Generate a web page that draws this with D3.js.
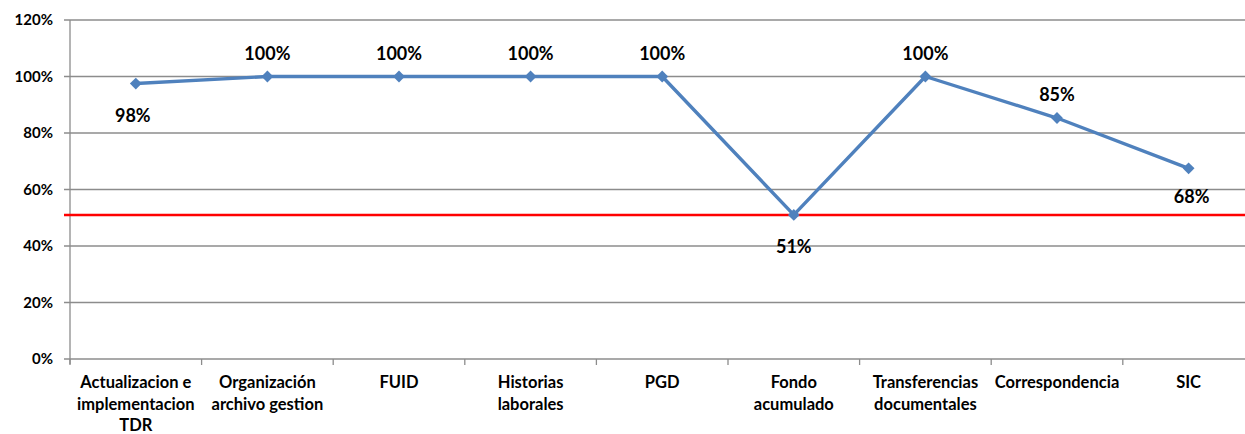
<!DOCTYPE html>
<html>
<head>
<meta charset="utf-8">
<script src="https://cdn.jsdelivr.net/npm/d3@7"></script>
<style>
    body { margin: 0; background: #fff; }
    text { font-family: Lato, "Open Sans", sans-serif; font-weight: bold; fill: #000; }
</style>
</head>
<body>
<div id="chart"></div>
<script>
// categories (line breaks as in the picture)
var categories = [
    ["Actualizacion e", "implementacion", "TDR"],
    ["Organización", "archivo gestion"],
    ["FUID"],
    ["Historias", "laborales"],
    ["PGD"],
    ["Fondo", "acumulado"],
    ["Transferencias", "documentales"],
    ["Correspondencia"],
    ["SIC"]
];
var values = [0.975, 1.0, 1.0, 1.0, 1.0, 0.51, 1.0, 0.853, 0.675];
var valueLabels = ["98%", "100%", "100%", "100%", "100%", "51%", "100%", "85%", "68%"];
var labelPos = ["below", "above", "above", "above", "above", "below", "above", "above", "below"];
var yTicks = [0, 0.2, 0.4, 0.6, 0.8, 1.0, 1.2];
var targetValue = 0.51;

var width = 1245;
var height = 434;
var plotLeft = 70, plotTop = 20, plotBottom = 359;
var band = 131.6;

var svg = d3.select("#chart")
    .append("svg")
    .attr("width", width)
    .attr("height", height);

var x = d3.scaleBand()
    .domain(d3.range(categories.length))
    .range([plotLeft, plotLeft + band * categories.length]);

var y = d3.scaleLinear()
    .domain([0, 1.2])
    .range([plotBottom, plotTop]);

// gridlines
svg.selectAll(".grid")
    .data(yTicks)
    .enter()
    .append("line")
    .attr("x1", plotLeft - 6)
    .attr("x2", width)
    .attr("y1", function (d) { return y(d); })
    .attr("y2", function (d) { return y(d); })
    .attr("stroke", "#8c8c8c")
    .attr("stroke-width", 1.3);

// y axis line
svg.append("line")
    .attr("x1", plotLeft).attr("x2", plotLeft)
    .attr("y1", plotTop).attr("y2", plotBottom + 5)
    .attr("stroke", "#8c8c8c")
    .attr("stroke-width", 1.3);

// y labels
svg.selectAll(".ylab")
    .data(yTicks)
    .enter()
    .append("text")
    .attr("x", plotLeft - 17)
    .attr("y", function (d) { return y(d) + 5; })
    .attr("text-anchor", "end")
    .style("font-size", "15px")
    .text(function (d) { return d3.format(".0%")(d); });

// x ticks at band edges
svg.selectAll(".xtick")
    .data(d3.range(categories.length + 1))
    .enter()
    .append("line")
    .attr("x1", function (d) { return plotLeft + d * band; })
    .attr("x2", function (d) { return plotLeft + d * band; })
    .attr("y1", plotBottom)
    .attr("y2", plotBottom + 6)
    .attr("stroke", "#8c8c8c")
    .attr("stroke-width", 1.3);

// x labels
var xl = svg.selectAll(".xlab")
    .data(categories)
    .enter()
    .append("text")
    .attr("text-anchor", "middle")
    .style("font-size", "16.5px")
    .attr("transform", function (d, i) {
        return "translate(" + (x(i) + x.bandwidth() / 2) + "," + 388 + ")";
    });

xl.selectAll("tspan")
    .data(function (d) { return d; })
    .enter()
    .append("tspan")
    .attr("x", 0)
    .attr("y", function (d, i) { return i * 21.5; })
    .text(function (d) { return d; });

// target line
svg.append("line")
    .attr("x1", plotLeft - 6)
    .attr("x2", width)
    .attr("y1", y(targetValue))
    .attr("y2", y(targetValue))
    .attr("stroke", "#ff0000")
    .attr("stroke-width", 2.5);

// series line
var line = d3.line()
    .x(function (d, i) { return x(i) + x.bandwidth() / 2; })
    .y(function (d) { return y(d); });

svg.append("path")
    .datum(values)
    .attr("d", line)
    .attr("fill", "none")
    .attr("stroke", "#4f81bd")
    .attr("stroke-width", 3.4)
    .attr("stroke-linejoin", "round");

svg.selectAll(".marker")
    .data(values)
    .enter()
    .append("path")
    .attr("d", d3.symbol().type(d3.symbolSquare).size(70))
    .attr("transform", function (d, i) {
        return "translate(" + (x(i) + x.bandwidth() / 2) + "," + y(d) + ") rotate(45)";
    })
    .attr("fill", "#4f81bd");

// data labels
svg.selectAll(".vlab")
    .data(values)
    .enter()
    .append("text")
    .attr("text-anchor", "middle")
    .style("font-size", "18px")
    .attr("x", function (d, i) {
        var cx = x(i) + x.bandwidth() / 2;
        if (i == 0) return cx - 3;
        if (i == 8) return cx + 3;
        return cx;
    })
    .attr("y", function (d, i) {
        if (labelPos[i] == "above") return y(d) - 17;
        if (i == 8) return y(d) + 35;
        return y(d) + 38;
    })
    .text(function (d, i) { return valueLabels[i]; });
</script>
</body>
</html>
